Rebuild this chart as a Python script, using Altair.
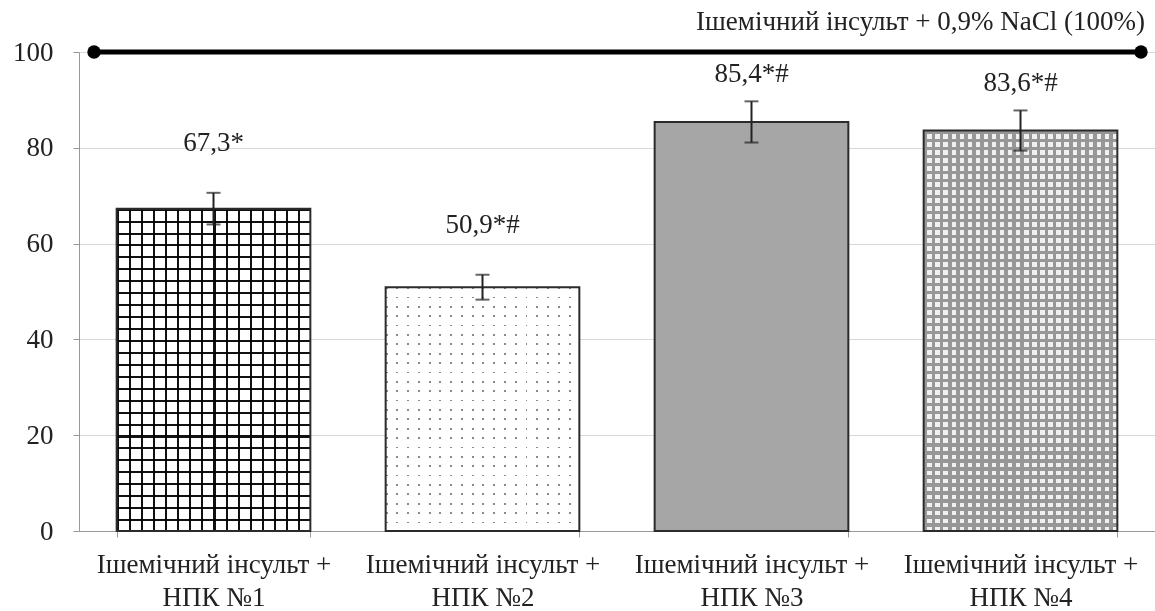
import altair as alt
import pandas as pd

# Group names (second line of each axis label), means, errors and printed labels
groups = ["НПК №1", "НПК №2", "НПК №3", "НПК №4"]
values = [67.3, 50.9, 85.4, 83.6]
errors = [3.3, 2.6, 4.3, 4.2]
labels = ["67,3*", "50,9*#", "85,4*#", "83,6*#"]

control_value = 100
control_label = "Ішемічний інсульт + 0,9% NaCl (100%)"

FONT = "Liberation Serif"
FS = 27
W, H = 1076, 479

df = pd.DataFrame({"group": groups, "value": values, "err": errors, "label": labels})
ctrl = pd.DataFrame({"value": [control_value], "label": [control_label]})


def stripes(n, line_frac, line_color, bg_color, vertical):
    """Hard-edged stripe gradient: n periods across the mark's bounding box."""
    stops = []
    for i in range(n):
        a = i / n
        b = (i + line_frac) / n
        c = (i + 1) / n
        stops += [
            alt.GradientStop(offset=a, color=line_color),
            alt.GradientStop(offset=b, color=line_color),
            alt.GradientStop(offset=b, color=bg_color),
            alt.GradientStop(offset=c, color=bg_color),
        ]
    if vertical:
        return alt.LinearGradient(gradient="linear", stops=stops, x1=0, x2=1, y1=0, y2=0)
    return alt.LinearGradient(gradient="linear", stops=stops, x1=0, x2=0, y1=0, y2=1)


x_enc = alt.X(
    "group:N",
    sort=groups,
    title=None,
    scale=alt.Scale(paddingInner=0.28, paddingOuter=0.14),
    axis=alt.Axis(
        labelExpr="datum.label ? ['Ішемічний інсульт +', datum.label] : ''",
        labelFont=FONT,
        labelFontSize=FS,
        labelColor="#222",
        labelAngle=0,
        labelPadding=14,
        labelLineHeight=33,
        labelLimit=0,
        tickBand="extent",
        tickSize=6,
        tickColor="#999",
        domainColor="#999",
        grid=False,
    ),
)
y_scale = alt.Scale(domain=[0, 100], nice=False)
y_enc = alt.Y(
    "value:Q",
    scale=y_scale,
    title=None,
    axis=alt.Axis(
        values=[0, 20, 40, 60, 80, 100],
        labelFont=FONT,
        labelFontSize=FS,
        labelColor="#222",
        labelPadding=20,
        tickSize=6,
        tickColor="#999",
        domainColor="#999",
        gridColor="#d9d9d9",
        gridWidth=1,
    ),
)

base = alt.Chart(df).encode(x=x_enc, y=y_enc)


def only(g):
    return alt.datum.group == g


# Bar 1: black square grid
b1v = base.transform_filter(only(groups[0])).mark_bar(
    fill=stripes(16, 0.17, "#111", "#fff", True)
)
b1h = base.transform_filter(only(groups[0])).mark_bar(
    fill=stripes(27, 0.17, "#111", "#fff", False), blend="multiply"
)
# Bar 2: sparse grey dots
b2v = base.transform_filter(only(groups[1])).mark_bar(
    fill=stripes(18, 0.18, "#8a8a8a", "#fff", True)
)
b2h = base.transform_filter(only(groups[1])).mark_bar(
    fill=stripes(26, 0.18, "#8a8a8a", "#fff", False), blend="lighten"
)
# Bar 3: solid grey
b3 = base.transform_filter(only(groups[2])).mark_bar(fill="#a6a6a6")
# Bar 4: grey mesh with light cells
b4v = base.transform_filter(only(groups[3])).mark_bar(
    fill=stripes(24, 0.45, "#979797", "#f0f0f0", True)
)
b4h = base.transform_filter(only(groups[3])).mark_bar(
    fill=stripes(50, 0.45, "#979797", "#f0f0f0", False), blend="darken"
)

outline = base.mark_bar(fill=None, fillOpacity=0, stroke="#2b2b2b", strokeWidth=2)

err_base = base.transform_calculate(lo="datum.value - datum.err", hi="datum.value + datum.err")
err_rule = err_base.mark_rule(color="#222", strokeWidth=2).encode(
    y=alt.Y("lo:Q", scale=y_scale), y2="hi:Q"
)
cap_lo = err_base.mark_tick(color="#222", thickness=2, size=14, orient="horizontal").encode(
    y=alt.Y("lo:Q", scale=y_scale)
)
cap_hi = err_base.mark_tick(color="#222", thickness=2, size=14, orient="horizontal").encode(
    y=alt.Y("hi:Q", scale=y_scale)
)

# Value labels above the error bars
lab_low = err_base.transform_filter("datum.value < 80").mark_text(
    font=FONT, fontSize=FS, color="#222", baseline="middle", dy=-50
).encode(y=alt.Y("hi:Q", scale=y_scale), text="label:N")
lab_high = err_base.transform_filter("datum.value >= 80").mark_text(
    font=FONT, fontSize=FS, color="#222", baseline="middle", dy=-27
).encode(y=alt.Y("hi:Q", scale=y_scale), text="label:N")

# Control level (100 %) line with end markers and its caption
ctrl_base = alt.Chart(ctrl).encode(y=alt.Y("value:Q", scale=y_scale))
ctrl_line = ctrl_base.mark_rule(color="#000", strokeWidth=5).encode(
    x=alt.value(15), x2=alt.value(1062)
)
ctrl_dot_l = ctrl_base.mark_circle(color="#000", size=180, opacity=1).encode(x=alt.value(15))
ctrl_dot_r = ctrl_base.mark_circle(color="#000", size=180, opacity=1).encode(x=alt.value(1062))
ctrl_text = ctrl_base.mark_text(
    font=FONT, fontSize=FS, color="#222", align="right", baseline="middle", dy=-30
).encode(x=alt.value(1066), text="label:N")

chart = (
    alt.layer(
        b1v, b1h, b2v, b2h, b3, b4v, b4h, outline,
        err_rule, cap_lo, cap_hi, lab_low, lab_high,
        ctrl_line, ctrl_dot_l, ctrl_dot_r, ctrl_text,
    )
    .properties(
        width=W,
        height=H,
        autosize=alt.AutoSizeParams(type="none"),
        padding={"left": 79, "top": 52, "right": 0, "bottom": 80},
        background="white",
    )
    .configure_view(stroke=None)
)

chart.save("out.html", embed_options={"renderer": "svg", "actions": False})
